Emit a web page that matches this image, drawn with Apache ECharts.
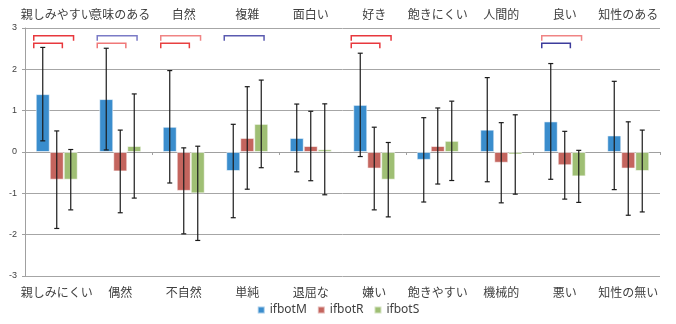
<!DOCTYPE html>
<html>
<head>
<meta charset="utf-8">
<script src="https://cdn.jsdelivr.net/npm/echarts@6/dist/echarts.min.js"></script>
<style>
  html, body { margin: 0; padding: 0; background: #fff; }
  #chart { width: 676px; height: 324px; }
</style>
</head>
<body>
<div id="chart"></div>
<script>
// Semantic-differential scores of three robots (mean ± SD)
const posLabels = ['親しみやすい', '意味のある', '自然', '複雑', '面白い', '好き', '飽きにくい', '人間的', '良い', '知性のある'];
const negLabels = ['親しみにくい', '偶然', '不自然', '単純', '退屈な', '嫌い', '飽きやすい', '機械的', '悪い', '知性の無い'];
const seriesNames = ['ifbotM', 'ifbotR', 'ifbotS'];

const meanM = [1.40, 1.28, 0.61, -0.46, 0.34, 1.14, -0.19, 0.54, 0.74, 0.40];
const meanR = [-0.67, -0.47, -0.94, 0.34, 0.145, -0.40, 0.145, -0.26, -0.32, -0.40];
const meanS = [-0.67, 0.145, -1.00, 0.68, 0.065, -0.67, 0.27, -0.06, -0.59, -0.46];

const sdM = [1.13, 1.23, 1.36, 1.13, 0.82, 1.25, 1.02, 1.26, 1.40, 1.31];
const sdR = [1.18, 1.00, 1.04, 1.24, 0.84, 1.00, 0.92, 0.97, 0.82, 1.13];
const sdS = [0.73, 1.26, 1.14, 1.06, 1.10, 0.90, 0.96, 0.96, 0.63, 0.99];

// Significance brackets: [category, to-series (1 = R, 2 = S), level (0 outer, 1 inner), colour]
const brackets = [
  [0, 2, 0, '#e8383d'], [0, 1, 1, '#e8383d'],
  [1, 2, 0, '#7b7bc6'], [1, 1, 1, '#f07878'],
  [2, 2, 0, '#f08484'], [2, 1, 1, '#e84040'],
  [3, 2, 0, '#5a5ab0'],
  [5, 2, 0, '#e8383d'], [5, 1, 1, '#e8383d'],
  [8, 2, 0, '#f08484'], [8, 1, 1, '#3c3c9c']
];
const bracketLevels = [2.81, 2.63];

const colors = ['#3a8dcd', '#c4655e', '#9fbf74'];
const means = [meanM, meanR, meanS];
const sds = [sdM, sdR, sdS];
const BAR_W = 14;
const FONT = '"Noto Sans CJK JP", "Noto Sans", sans-serif';

const chart = echarts.init(document.getElementById('chart'), null, { renderer: 'canvas' });

const gridRect = { left: 25, right: 16, top: 28, bottom: 48 };

const barSeries = seriesNames.map((name, i) => ({
  name: name,
  type: 'bar',
  xAxisIndex: 0,
  yAxisIndex: 0,
  data: means[i],
  barWidth: BAR_W,
  barGap: '0%',
  itemStyle: { color: colors[i], borderColor: 'rgba(255,255,255,0.55)', borderWidth: 1 },
  z: 2
}));

const errorSeries = seriesNames.map((name, i) => ({
  type: 'custom',
  xAxisIndex: 0,
  yAxisIndex: 0,
  silent: true,
  z: 5,
  data: means[i].map((m, k) => [k, m - sds[i][k], m + sds[i][k]]),
  encode: { x: 0, y: [1, 2] },
  renderItem: function (params, api) {
    const k = api.value(0);
    const c = api.coord([k, 0])[0] + (i - 1) * BAR_W;
    const yLo = api.coord([k, api.value(1)])[1];
    const yHi = api.coord([k, api.value(2)])[1];
    const style = { stroke: '#1a1a1a', lineWidth: 1.2 };
    return {
      type: 'group',
      children: [
        { type: 'line', shape: { x1: c, y1: yHi, x2: c, y2: yLo }, style: style },
        { type: 'line', shape: { x1: c - 2.5, y1: yHi, x2: c + 2.5, y2: yHi }, style: style },
        { type: 'line', shape: { x1: c - 2.5, y1: yLo, x2: c + 2.5, y2: yLo }, style: style }
      ]
    };
  }
}));

const bracketSeries = {
  type: 'custom',
  xAxisIndex: 0,
  yAxisIndex: 0,
  silent: true,
  z: 6,
  data: brackets.map(b => [b[0], bracketLevels[b[2]], b[1]]),
  encode: { x: 0, y: 1 },
  renderItem: function (params, api) {
    const k = api.value(0);
    const to = api.value(2);
    const color = brackets[params.dataIndex][3];
    const center = api.coord([k, api.value(1)]);
    const y = center[1];
    const x1 = center[0] - 1.5 * BAR_W - 2;
    const x2 = center[0] + (to === 2 ? 1.2 : 0.4) * BAR_W;
    return {
      type: 'polyline',
      shape: { points: [[x1, y + 5], [x1, y], [x2, y], [x2, y + 5]] },
      style: { stroke: color, lineWidth: 1.5, fill: null }
    };
  }
};

const option = {
  animation: false,
  backgroundColor: '#ffffff',
  color: colors,
  textStyle: { fontFamily: FONT },
  grid: [
    Object.assign({}, gridRect),
    Object.assign({}, gridRect)
  ],
  legend: {
    data: seriesNames,
    bottom: 3,
    left: 'center',
    itemWidth: 7,
    itemHeight: 7,
    itemGap: 10,
    icon: 'rect',
    textStyle: { fontSize: 12, color: '#404040', fontFamily: '"Noto Sans", sans-serif' }
  },
  xAxis: [
    {
      type: 'category',
      gridIndex: 0,
      position: 'bottom',
      data: negLabels,
      axisLine: { show: false, onZero: false },
      axisTick: { show: false },
      axisLabel: { fontSize: 12, color: '#404040', margin: 10, interval: 0, fontFamily: FONT }
    },
    {
      type: 'category',
      gridIndex: 0,
      position: 'top',
      data: posLabels,
      axisLine: { show: false, onZero: false },
      axisTick: { show: false },
      axisLabel: { fontSize: 12, color: '#404040', margin: 8, interval: 0, fontFamily: FONT }
    },
    {
      type: 'category',
      gridIndex: 1,
      position: 'bottom',
      data: negLabels,
      axisLine: { show: true, onZero: true, lineStyle: { color: '#a0a0a0', width: 1 } },
      axisTick: { show: true, length: 3, lineStyle: { color: '#a0a0a0' } },
      axisLabel: { show: false }
    }
  ],
  yAxis: [
    {
      type: 'value',
      gridIndex: 0,
      min: -3,
      max: 3,
      interval: 1,
      axisLine: { show: true, lineStyle: { color: '#a0a0a0' } },
      axisTick: { show: true, length: 3, lineStyle: { color: '#a0a0a0' } },
      axisLabel: { fontSize: 9, color: '#404040', margin: 8, fontFamily: '"Liberation Sans", Arial, sans-serif' },
      splitLine: { show: true, lineStyle: { color: '#a6a6a6', width: 1 } }
    },
    {
      type: 'value',
      gridIndex: 1,
      min: -3,
      max: 3,
      interval: 1,
      show: false
    }
  ],
  series: barSeries.concat(errorSeries, [bracketSeries])
};

chart.setOption(option);
</script>
</body>
</html>
